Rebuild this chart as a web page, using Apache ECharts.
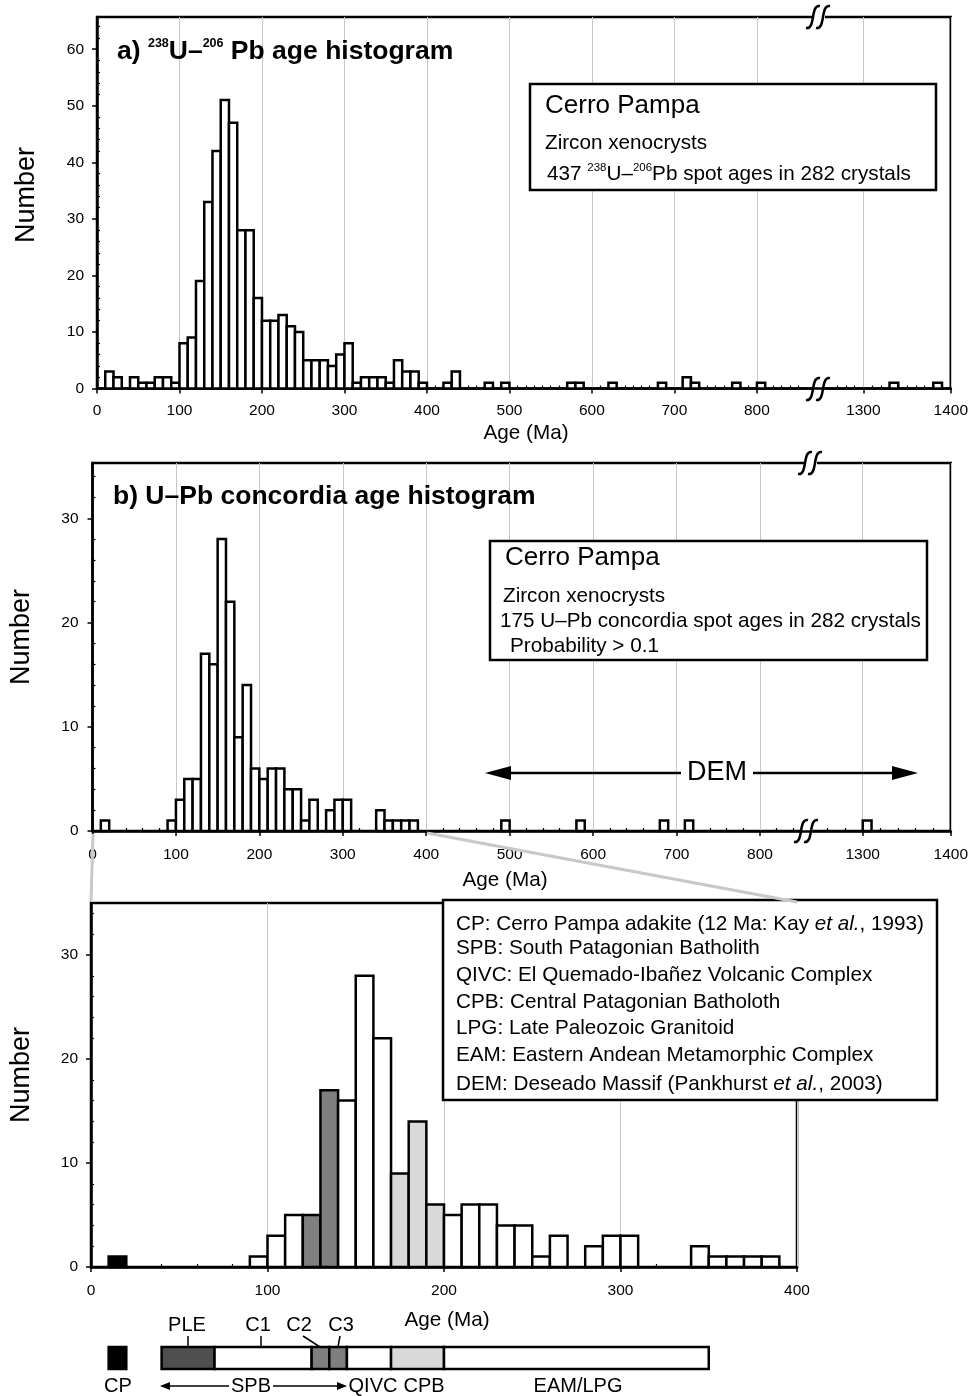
<!DOCTYPE html>
<html>
<head>
<meta charset="utf-8">
<script src="https://cdn.jsdelivr.net/npm/echarts@6/dist/echarts.min.js"></script>
<style>
  html, body { margin: 0; background: #fff; }
  #chart { width: 971px; height: 1396px; }
</style>
</head>
<body>
<div id="chart"></div>
<script>
// a) 238U-206Pb ages: lower edge of each 10 Ma bin and its count
const ageA = [10, 20, 40, 50, 60, 70, 80, 90, 100, 110, 120, 130, 140, 150, 160, 170, 180, 190,
  200, 210, 220, 230, 240, 250, 260, 270, 280, 290, 300, 310, 320, 330, 340, 350, 360, 370, 380, 390,
  420, 430, 470, 490, 570, 580, 620, 680, 710, 720, 770, 800, 1330, 1380]
const countA = [3, 2, 2, 1, 1, 2, 2, 1, 8, 9, 19, 33, 42, 51, 47, 28, 28, 16,
  12, 12, 13, 11, 10, 5, 5, 5, 4, 6, 8, 1, 2, 2, 2, 1, 5, 3, 3, 1,
  1, 3, 1, 1, 1, 1, 1, 1, 2, 1, 1, 1, 1, 1]

// b) and c) U-Pb concordia ages
const ageB = [10, 90, 100, 110, 120, 130, 140, 150, 160, 170, 180, 190, 200, 210, 220, 230, 240,
  250, 260, 280, 290, 300, 340, 350, 360, 370, 380, 490, 580, 680, 710, 1300]
const countB = [1, 1, 3, 5, 5, 17, 16, 28, 22, 9, 14, 6, 5, 6, 6, 4, 4,
  1, 3, 2, 3, 3, 2, 1, 1, 1, 1, 1, 1, 1, 1, 1]

// shaded bins in panel c
const blackBins = [10]
const darkBins = [120, 130]
const lightBins = [170, 180, 190]

// tick labels
const xTicksAB = [0, 100, 200, 300, 400, 500, 600, 700, 800, 1300, 1400]
const xTicksC = [0, 100, 200, 300, 400]
const yTicksA = [0, 10, 20, 30, 40, 50, 60]
const yTicksBC = [0, 10, 20, 30]

// unit bar below panel c (Ma)
const segFrom = [10, 40, 70, 125, 135, 145, 170, 200]
const segTo = [20, 70, 125, 135, 145, 170, 200, 350]
const segFill = ['#000', '#4f4f4f', '#fff', '#7f7f7f', '#7f7f7f', '#fff', '#d9d9d9', '#fff']

const FONT = '"Liberation Sans", Arial, Helvetica, sans-serif'
const GRID_LINE = '#c8c8c8'
const BODY = 20.7

// broken axis: ages >= 1000 are shifted next to 800
function breakMap(at, k) {
  return {
    to: a => a < 1000 ? a : at + (a - 1300) * k,
    from: v => v < at - 60 ? v : 1300 + (v - at) / k
  }
}
const mapA = breakMap(929, 1.06)
const mapB = breakMap(923.2, 1.055)
const mapC = { to: a => a, from: v => v }

function range(from, to, step, skip) {
  const out = []
  for (let v = from; v <= to; v += step) if (!skip || v % skip) out.push(v)
  return out
}

function mainX(g, max, map, ticks, margin) {
  const vals = ticks.map(map.to)
  return {
    type: 'value', gridIndex: g, min: 0, max: max, position: 'bottom',
    axisLine: { show: true, onZero: false, lineStyle: { color: '#000', width: 2.5 } },
    axisTick: { show: true, customValues: vals, length: 5, lineStyle: { color: '#000', width: 1.5 } },
    axisLabel: {
      show: true, customValues: vals, margin: margin, color: '#000', fontSize: 15.5, fontFamily: FONT,
      formatter: v => String(Math.round(map.from(v)))
    },
    splitLine: { show: true, lineStyle: { color: GRID_LINE, width: 1 } }
  }
}
function minorX(g, max, vals) {
  return {
    type: 'value', gridIndex: g, min: 0, max: max, position: 'bottom',
    axisLine: { show: false }, axisLabel: { show: false }, splitLine: { show: false },
    axisTick: { show: true, inside: true, length: 3, customValues: vals, lineStyle: { color: '#000', width: 1.2 } }
  }
}
function mainY(g, max, ticks, margin) {
  return {
    type: 'value', gridIndex: g, min: 0, max: max,
    axisLine: { show: true, onZero: false, lineStyle: { color: '#000', width: 2.5 } },
    axisTick: { show: true, customValues: ticks, length: 5, lineStyle: { color: '#000', width: 1.5 } },
    axisLabel: { show: true, customValues: ticks, margin: margin, color: '#000', fontSize: 15.5, fontFamily: FONT },
    splitLine: { show: false }
  }
}
function minorY(g, max, vals) {
  return {
    type: 'value', gridIndex: g, min: 0, max: max, position: 'left',
    axisLine: { show: false }, axisLabel: { show: false }, splitLine: { show: false },
    axisTick: { show: true, inside: true, length: 3, customValues: vals, lineStyle: { color: '#000', width: 1.2 } }
  }
}

function binFill(age) {
  if (blackBins.includes(age)) return '#000'
  if (darkBins.includes(age)) return '#7f7f7f'
  if (lightBins.includes(age)) return '#d9d9d9'
  return '#fff'
}

function hist(axis, ages, counts, map, shaded) {
  return {
    type: 'custom', xAxisIndex: axis, yAxisIndex: axis, clip: false,
    data: ages.map((a, i) => [map.to(a), map.to(a + 10), counts[i], a]),
    encode: { x: [0, 1], y: 2 },
    renderItem: (params, api) => {
      const p0 = api.coord([api.value(0), 0])
      const p1 = api.coord([api.value(1), api.value(2)])
      return {
        type: 'rect',
        shape: { x: p0[0], y: p1[1], width: p1[0] - p0[0], height: p0[1] - p1[1] },
        style: { fill: shaded ? binFill(api.value(3)) : '#fff', stroke: '#000', lineWidth: 2.5 }
      }
    }
  }
}

function txt(x, y, text, size, extra) {
  return {
    type: 'text', x: x, y: y, z: 100,
    style: Object.assign({
      text: text, fontSize: size, fontFamily: FONT, fill: '#000',
      textAlign: 'left', textVerticalAlign: 'middle'
    }, extra || {})
  }
}
function richTxt(x, y, text, size, bold, supSize) {
  const w = bold ? 'bold' : 'normal'
  return txt(x, y, text, size, {
    rich: {
      n: { fontSize: size, fontWeight: w, fontFamily: FONT, lineHeight: size + 4, verticalAlign: 'bottom' },
      i: { fontSize: size, fontStyle: 'italic', fontFamily: FONT, lineHeight: size + 4, verticalAlign: 'bottom' },
      s: { fontSize: supSize, fontWeight: w, fontFamily: FONT, lineHeight: supSize + 2, verticalAlign: 'top', padding: [2, 0, 0, 0] }
    }
  })
}
function box(x, y, w, h) {
  return { type: 'rect', z: 99, shape: { x: x, y: y, width: w, height: h }, style: { fill: '#fff', stroke: '#000', lineWidth: 2.5 } }
}
function vlabel(x, y, text) {
  return {
    type: 'text', x: x, y: y, rotation: Math.PI / 2, z: 100,
    style: { text: text, fontSize: 27, fontFamily: FONT, fill: '#000', textAlign: 'center', textVerticalAlign: 'middle' }
  }
}
function brk(x, y) {
  const s = dx => ({
    type: 'bezierCurve',
    shape: { x1: dx - 9, y1: 11, cpx1: dx + 1, cpy1: 13, cpx2: dx - 5, cpy2: -13, x2: dx + 5, y2: -11 },
    style: { stroke: '#000', lineWidth: 2.5, fill: null }
  })
  return {
    type: 'group', x: x, y: y, z: 101,
    children: [
      { type: 'rect', shape: { x: -6, y: -4, width: 11, height: 8 }, style: { fill: '#fff' } },
      s(-5), s(5)
    ]
  }
}
function line(x1, y1, x2, y2, color, w) {
  return { type: 'line', z: 100, shape: { x1: x1, y1: y1, x2: x2, y2: y2 }, style: { stroke: color || '#000', lineWidth: w || 2.5 } }
}
function head(x, y, dir, len, half) {
  return {
    type: 'polygon', z: 100,
    shape: { points: [[x, y], [x - dir * len, y - half], [x - dir * len, y + half]] },
    style: { fill: '#000' }
  }
}

const maxA = 1035, maxB = 1028.7

const chart = echarts.init(document.getElementById('chart'), null, { renderer: 'canvas' })
chart.setOption({
  animation: false,
  backgroundColor: '#fff',
  grid: [
    { left: 97, top: 17, width: 855, height: 371.5, show: true, borderColor: '#000', borderWidth: 2.5 },
    { left: 92.5, top: 463, width: 860, height: 368, show: true, borderColor: '#000', borderWidth: 2.5 },
    { left: 91, top: 903, width: 706, height: 364, show: true, borderColor: '#000', borderWidth: 2.5 },
    { left: 91, top: 1347, width: 706, height: 22, show: false }
  ],
  xAxis: [
    mainX(0, maxA, mapA, xTicksAB, 14),
    mainX(1, maxB, mapB, xTicksAB, 16),
    mainX(2, 400, mapC, xTicksC, 16),
    { type: 'value', gridIndex: 3, min: 0, max: 400, show: false },
    minorX(0, maxA, range(10, 850, 10, 100).concat(range(1270, 1390, 10, 100)).map(mapA.to)),
    minorX(1, maxB, range(20, 840, 20, 100).concat(range(1260, 1380, 20, 100)).map(mapB.to)),
    minorX(2, 400, range(20, 380, 20, 100))
  ],
  yAxis: [
    mainY(0, 65.7, yTicksA, 13),
    mainY(1, 35.3, yTicksBC, 14),
    mainY(2, 35, yTicksBC, 13),
    { type: 'value', gridIndex: 3, min: 0, max: 1, show: false },
    minorY(0, 65.7, range(2, 64, 2, 10)),
    minorY(1, 35.3, range(2, 34, 2, 10)),
    minorY(2, 35, range(2, 34, 2, 10))
  ],
  series: [
    hist(0, ageA, countA, mapA, false),
    hist(1, ageB, countB, mapB, false),
    hist(2, ageB.filter(a => a < 400), countB.filter((c, i) => ageB[i] < 400), mapC, true),
    {
      type: 'custom', xAxisIndex: 3, yAxisIndex: 3, clip: false,
      data: segFrom.map((f, i) => [f, segTo[i], i]),
      encode: { x: [0, 1] },
      renderItem: (params, api) => {
        const p0 = api.coord([api.value(0), 0])
        const p1 = api.coord([api.value(1), 1])
        return {
          type: 'rect',
          shape: { x: p0[0], y: p1[1], width: p1[0] - p0[0], height: p0[1] - p1[1] },
          style: { fill: segFill[api.value(2)], stroke: '#000', lineWidth: 2.5 }
        }
      }
    }
  ],
  graphic: [
    // panel a
    richTxt(117, 50, '{n|a) }{s|238}{n|U–}{s|206}{n| Pb age histogram}', 26.5, true, 12.5),
    box(530, 84, 406, 106),
    txt(545, 106, 'Cerro Pampa', 26),
    txt(545, 143, 'Zircon xenocrysts', BODY),
    richTxt(547, 172, '{n|437 }{s|238}{n|U–}{s|206}{n|Pb spot ages in 282 crystals}', BODY, false, 11.5),
    vlabel(27, 195, 'Number'),
    txt(526, 433, 'Age (Ma)', BODY, { textAlign: 'center' }),
    brk(820, 389), brk(820, 17),

    // panel b
    txt(113, 497, 'b) U–Pb concordia age histogram', 26.5, { fontWeight: 'bold' }),
    box(490, 541, 437, 119),
    txt(505, 558, 'Cerro Pampa', 26),
    txt(503, 596, 'Zircon xenocrysts', BODY),
    txt(500, 621, '175 U–Pb concordia spot ages in 282 crystals', BODY),
    txt(510, 646, 'Probability > 0.1', BODY),
    head(485, 773, -1, 26, 7), line(505, 773, 681, 773),
    txt(717, 773, 'DEM', 27, { textAlign: 'center' }),
    line(753, 773, 898, 773), head(918, 773, 1, 26, 7),
    vlabel(22, 637, 'Number'),
    txt(505, 880, 'Age (Ma)', BODY, { textAlign: 'center' }),
    brk(808, 831), brk(812, 463),

    // zoom lines from b to c
    line(93, 834, 91, 902, '#c8c8c8', 3),
    line(427, 833, 797, 902, '#c8c8c8', 3),

    // panel c
    box(443, 900, 494, 200),
    richTxt(456, 922, '{n|CP: Cerro Pampa adakite (12 Ma: Kay }{i|et al.}{n|, 1993)}', BODY, false, 11),
    txt(456, 948, 'SPB: South Patagonian Batholith', BODY),
    txt(456, 975, 'QIVC: El Quemado-Ibañez Volcanic Complex', BODY),
    txt(456, 1002, 'CPB: Central Patagonian Batholoth', BODY),
    txt(456, 1028, 'LPG: Late Paleozoic Granitoid', BODY),
    txt(456, 1055, 'EAM: Eastern Andean Metamorphic Complex', BODY),
    richTxt(456, 1082, '{n|DEM: Deseado Massif (Pankhurst }{i|et al.}{n|, 2003)}', BODY, false, 11),
    vlabel(22, 1075, 'Number'),
    txt(447, 1320, 'Age (Ma)', BODY, { textAlign: 'center' }),

    // unit bar labels
    txt(187, 1325, 'PLE', 20, { textAlign: 'center' }), line(188, 1336, 188, 1347, '#000', 1.5),
    txt(258, 1325, 'C1', 20, { textAlign: 'center' }), line(261, 1336, 261, 1347, '#000', 1.5),
    txt(299, 1325, 'C2', 20, { textAlign: 'center' }), line(303, 1336, 320, 1347, '#000', 1.5),
    txt(341, 1325, 'C3', 20, { textAlign: 'center' }), line(340, 1336, 338, 1347, '#000', 1.5),
    txt(118, 1386, 'CP', 20, { textAlign: 'center' }),
    head(160, 1386, -1, 10, 4), line(168, 1386, 229, 1386, '#000', 1.5),
    txt(251, 1386, 'SPB', 20, { textAlign: 'center' }),
    line(273, 1386, 338, 1386, '#000', 1.5), head(347, 1386, 1, 10, 4),
    txt(373, 1386, 'QIVC', 20, { textAlign: 'center' }),
    txt(424, 1386, 'CPB', 20, { textAlign: 'center' }),
    txt(578, 1386, 'EAM/LPG', 20, { textAlign: 'center' })
  ]
})
</script>
</body>
</html>
